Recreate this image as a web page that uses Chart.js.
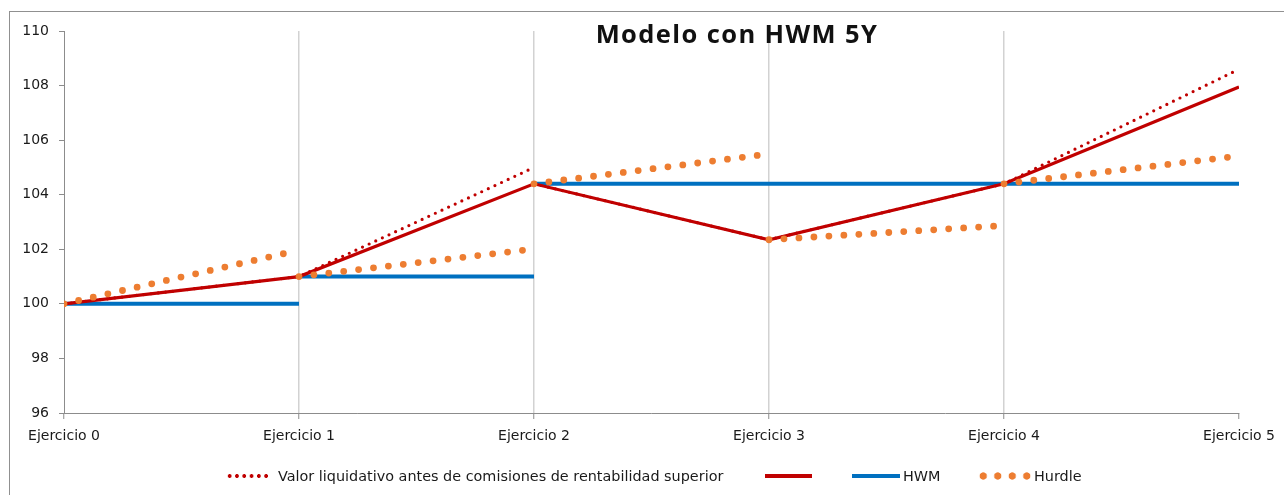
<!DOCTYPE html>
<html lang="es">
<head>
<meta charset="utf-8">
<title>Modelo con HWM 5Y</title>
<script src="https://cdn.jsdelivr.net/npm/chart.js@4.4.1/dist/chart.umd.min.js"></script>
<style>
  html, body { margin: 0; padding: 0; background: #fff; }
  body {
    width: 1284px; height: 495px; position: relative; overflow: hidden;
    font-family: "DejaVu Sans", sans-serif; color: #1a1a1a;
  }
  #frame {
    position: absolute; left: 9px; top: 11px; width: 1300px; height: 500px;
    border: 1px solid #909090;
  }
  #wrap { position: absolute; left: 0; top: 0; width: 1284px; height: 495px; }
  #title {
    position: absolute; left: 737px; top: 18px; transform: translateX(-50%);
    font-family: "Open Sans", sans-serif; font-weight: 700; font-size: 25.5px;
    letter-spacing: 1.4px;
    line-height: 30px; white-space: nowrap; color: #111;
  }
  .lg { position: absolute; top: 466px; height: 20px; line-height: 20px; font-size: 14.4px; white-space: nowrap; }
  .mk { position: absolute; }
</style>
</head>
<body>
<div id="frame"></div>
<div id="wrap"><canvas id="chart" width="1284" height="495"></canvas></div>
<div id="title">Modelo con HWM 5Y</div>

<div class="mk" style="left:226px; top:473px; width:44px; height:6px;
  background: radial-gradient(circle, #c00000 1.6px, transparent 2.2px) 0 0 / 7.3px 6px repeat-x;"></div>
<div class="lg" style="left:278px;">Valor liquidativo antes de comisiones de rentabilidad superior</div>
<div class="mk" style="left:765px; top:474px; width:47px; height:4px; background:#c00000;"></div>
<div class="mk" style="left:852px; top:474px; width:48px; height:4px; background:#0070c0;"></div>
<div class="lg" style="left:903px;">HWM</div>
<div class="mk" style="left:976px; top:472px; width:58px; height:8px;
  background: radial-gradient(circle, #ed7d31 3.3px, transparent 4px) 0 0 / 14.5px 8px repeat-x;"></div>
<div class="lg" style="left:1034px;">Hurdle</div>

<script>
// ── Data ──────────────────────────────────────────────────────────
const EJERCICIOS = ["Ejercicio 0", "Ejercicio 1", "Ejercicio 2", "Ejercicio 3", "Ejercicio 4", "Ejercicio 5"];
const Y_MIN = 96, Y_MAX = 110, Y_STEP = 2;

// Valor liquidativo después de comisiones (línea roja continua)
const VL_NETO = [100, 101, 104.4, 102.35, 104.4, 107.95];

// Valor liquidativo antes de comisiones: tramos de [ejercicio, valor]
const VL_BRUTO = [
  [[0, 100], [1, 101], [2, 105.0]],
  [[2, 104.4], [3, 102.35], [4, 104.4], [5, 108.6]],
];

// High water mark por tramos
const HWM = [
  [[0, 100], [1, 100]],
  [[1, 101], [2, 101]],
  [[2, 104.4], [5, 104.4]],
];

// Hurdle: arranca en cada ejercicio desde el valor liquidativo
const HURDLE = [
  [[0, 100], [0.94, 101.85]],
  [[1, 101], [1.96, 101.97]],
  [[2, 104.4], [2.95, 105.44]],
  [[3, 102.35], [3.96, 102.85]],
  [[4, 104.4], [4.96, 105.38]],
];

const RED = "#c00000", BLUE = "#0070c0", ORANGE = "#ed7d31";
const AXIS = "#8c8c8c";

// ── Helpers ───────────────────────────────────────────────────────
// tramos -> puntos {x,y} con un hueco (y:null) entre tramos
function toPoints(segs) {
  const out = [];
  segs.forEach((seg, i) => {
    if (i > 0) out.push({ x: seg[0][0], y: null });
    seg.forEach(([x, y]) => out.push({ x, y }));
  });
  return out;
}

const FONT = { family: "'DejaVu Sans', sans-serif", size: 14 };

new Chart(document.getElementById("chart"), {
  type: "line",
  data: {
    datasets: [
      {
        label: "Hurdle",
        data: toPoints(HURDLE),
        borderColor: ORANGE,
        borderWidth: 6.8,
        borderDash: [0, 15],
        borderCapStyle: "round",
        order: 0,
      },
      {
        label: "",
        data: VL_NETO.map((y, x) => ({ x, y })),
        borderColor: RED,
        borderWidth: 3.2,
        order: 1,
      },
      {
        label: "Valor liquidativo antes de comisiones de rentabilidad superior",
        data: toPoints(VL_BRUTO),
        borderColor: RED,
        borderWidth: 3.2,
        borderDash: [0, 7.3],
        borderCapStyle: "round",
        order: 2,
      },
      {
        label: "HWM",
        data: toPoints(HWM),
        borderColor: BLUE,
        borderWidth: 4,
        order: 3,
      },
    ],
  },
  options: {
    responsive: false,
    animation: false,
    spanGaps: false,
    elements: { point: { radius: 0, hoverRadius: 0 }, line: { tension: 0 } },
    layout: { padding: { left: 0, right: 45, top: 31, bottom: 42 } },
    scales: {
      x: {
        type: "linear",
        min: 0,
        max: EJERCICIOS.length - 1,
        afterFit: (s) => { s.height = 40; },
        border: { color: AXIS, width: 1 },
        grid: {
          color: (c) => (c.tick && c.tick.value > 0 && c.tick.value < EJERCICIOS.length - 1) ? "#d2d2d2" : "rgba(0,0,0,0)",
          lineWidth: 1.5,
          tickColor: AXIS,
          tickLength: 6,
          tickWidth: 1,
        },
        ticks: {
          stepSize: 1,
          autoSkip: false,
          maxRotation: 0,
          padding: 9,
          color: "#1a1a1a",
          font: FONT,
          callback: (v) => EJERCICIOS[v] ?? "",
        },
      },
      y: {
        min: Y_MIN,
        max: Y_MAX,
        afterFit: (s) => { s.width = 64; },
        border: { color: AXIS, width: 1 },
        grid: { drawOnChartArea: false, tickColor: AXIS, tickLength: 5 },
        ticks: { stepSize: Y_STEP, padding: 10, color: "#1a1a1a", font: FONT },
      },
    },
    plugins: {
      legend: { display: false },
      tooltip: { enabled: false },
      title: { display: false },
    },
  },
});
</script>
</body>
</html>
